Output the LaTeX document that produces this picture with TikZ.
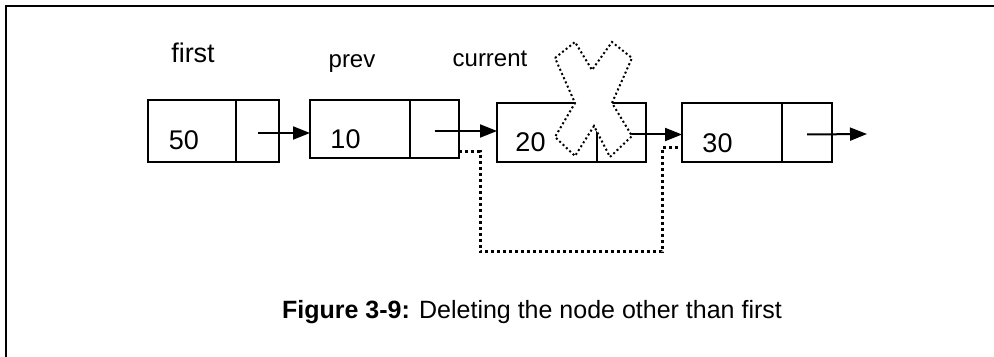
\documentclass[tikz,border=0pt]{standalone}
\usepackage{fontspec}
\setmainfont{Liberation Sans}
\usetikzlibrary{positioning,arrows.meta,calc}
\tikzset{
	cell/.style={draw, line width=1pt, minimum height=29.5pt, inner sep=0pt, outer sep=0pt},
	link/.style={line width=1pt, -{Triangle[length=8.5pt,width=6.5pt]}},
	bypass/.style={line width=1.5pt, dash pattern=on 1.5pt off 1.5pt},
	cross/.style={line width=1pt, dash pattern=on 1pt off 1.3pt, fill=white},
	val/.style={font=\fontsize{13.5}{16}\selectfont, inner sep=0pt},
	var/.style={font=\fontsize{12}{14}\selectfont, inner sep=0pt, anchor=base}
}
\begin{document}
\begin{tikzpicture}[x=0.5pt, y=-0.5pt]
		\useasboundingbox (0,0) rectangle (994,357);
		\draw [line width=1pt] (6,357) -- (6,6) -- (994,6);
		% list nodes
		\node [cell, minimum width=44pt, minimum height=31pt] (d1) at (192,131) {};
		\node [cell, minimum width=21.5pt, minimum height=31pt, right=0pt of d1] (p1) {};
		\node [cell, minimum width=50pt, minimum height=29pt] (d2) at (360,129) {};
		\node [cell, minimum width=24.5pt, minimum height=29pt, right=0pt of d2] (p2) {};
		\node [cell, minimum width=50pt] (d3) at (547,132.5) {};
		\node [cell, minimum width=24.5pt, right=0pt of d3] (p3) {};
		\node [cell, minimum width=50pt] (d4) at (732,132.5) {};
		\node [cell, minimum width=25pt, right=0pt of d4] (p4) {};
		\coordinate (nil) at (867,134);
		\node [val] (v1) at (184,140) {50};
		\node [val] (v2) at (345.5,139) {10};
		\node [val] (v3) at (530.5,142) {20};
		\node [val] (v4) at (717.5,143) {30};
		\node [var, font=\fontsize{13.5}{16}\selectfont] (first) at (193,63) {first};
		\node [var] (prev) at (352,68) {prev};
		\node [var] (current) at (490,67) {current};
		% links
		\draw [link] ([yshift=-1pt]p1.center) -- ([yshift=-1pt]p1.center -| d2.west);
		\draw [link] ([yshift=-1pt]p2.center) -- ([yshift=-1pt]p2.center -| d3.west);
		\draw [link] ([yshift=-1pt]p3.center) -- ([yshift=-1pt]p3.center -| d4.west);
		\draw [link] ([yshift=-1pt]p4.center) -- (nil);
		\draw [bypass] ($(p2.south east)+(0,-6)$) -| (480,252) -| ($(d4.south west)+(-20,-14)$) -- ($(d4.south west)+(0,-14)$);
		\draw [cross] (555,58) -- (575,42) -- (592,70) -- (612,42) -- (632,58) -- (612,103) -- (632,136) -- (610,157) -- (594,126) -- (575,156) -- (555,137) -- (575,103) -- cycle;
		\node [anchor=base, inner sep=0pt, font=\fontsize{12.5}{15}\selectfont] (caption) at (532,318) {\textbf{Figure 3-9:} Deleting the node other than first};
\end{tikzpicture}
\end{document}
